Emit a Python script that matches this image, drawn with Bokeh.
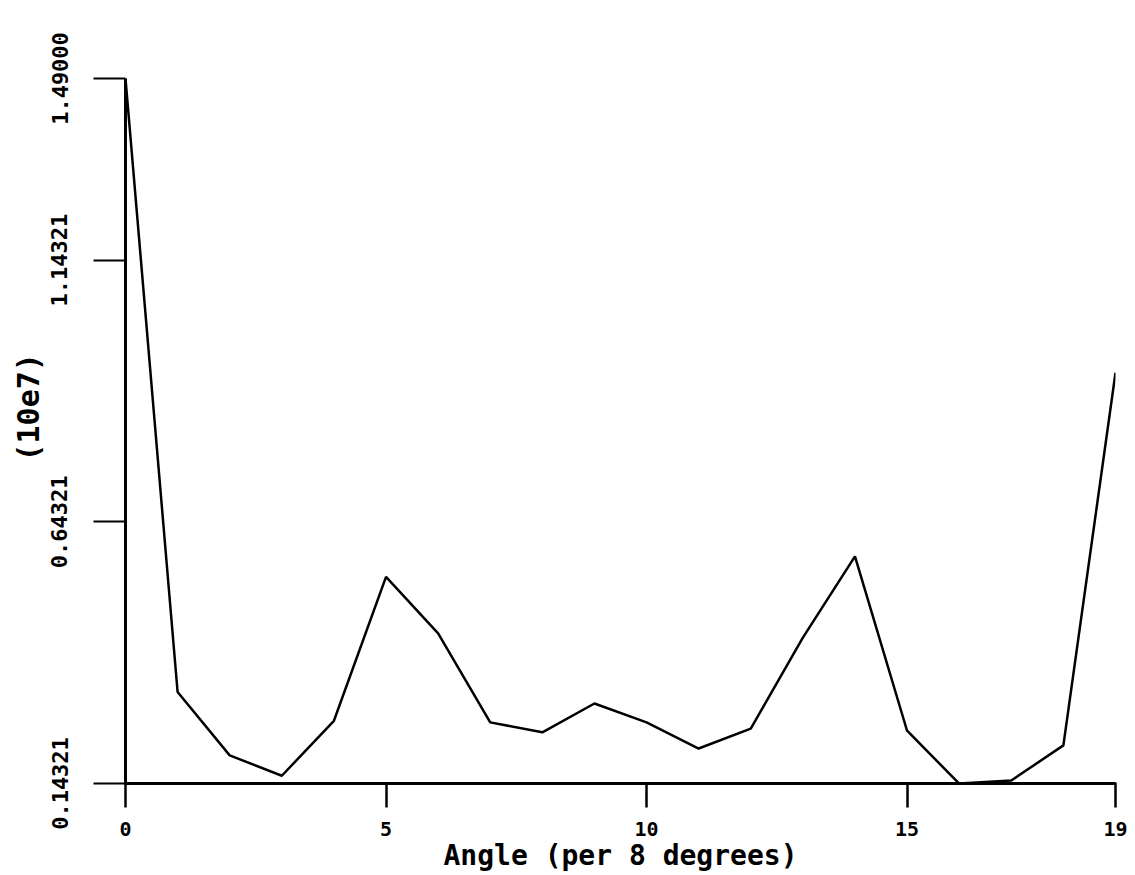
import math
from bokeh.plotting import figure
from bokeh.models import Range1d, FixedTicker, PrintfTickFormatter, Title
from bokeh.embed import file_html
from bokeh.resources import INLINE

# ---- data ----
angle = [0, 1, 2, 3, 4, 5, 6, 7, 8, 9, 10, 11, 12, 13, 14, 15, 16, 17, 18, 19]
value = [1.490, 0.318, 0.197, 0.158, 0.263, 0.538, 0.430, 0.260, 0.241, 0.296,
         0.260, 0.210, 0.248, 0.422, 0.577, 0.244, 0.143, 0.149, 0.216, 0.928]
x_ticks = [0, 5, 10, 15, 19]
y_ticks = [0.14321, 0.64321, 1.14321, 1.49]
x_title = "Angle (per 8 degrees)"
y_title = "(10e7)"

FONT = "DejaVu Sans Mono"

p = figure(width=1135, height=875, output_backend="svg", toolbar_location=None,
           x_range=Range1d(0, 19), y_range=Range1d(0.14321, 1.49),
           min_border_left=125, min_border_right=20,
           min_border_top=78, min_border_bottom=92)
p.outline_line_color = None
p.xgrid.visible = False
p.ygrid.visible = False
p.background_fill_color = "white"
p.border_fill_color = "white"

p.line(angle, value, line_color="black", line_width=2.5)

# x axis
xa = p.xaxis[0]
xa.ticker = FixedTicker(ticks=x_ticks)
xa.minor_tick_line_color = None
xa.major_tick_line_color = "black"
xa.major_tick_in = 1
xa.major_tick_out = 24
xa.major_tick_line_width = 2.5
xa.axis_line_width = 3
xa.major_label_standoff = 14
xa.major_label_text_font = FONT
xa.major_label_text_font_style = "bold"
xa.major_label_text_font_size = "20px"
xa.major_label_text_color = "black"
xa.axis_label = x_title
xa.axis_label_text_font = FONT
xa.axis_label_text_font_style = "bold"
xa.axis_label_text_font_size = "28px"
xa.axis_label_text_color = "black"
xa.axis_label_standoff = 0

# y axis
ya = p.yaxis[0]
ya.ticker = FixedTicker(ticks=y_ticks)
ya.formatter = PrintfTickFormatter(format="%.5f")
ya.minor_tick_line_color = None
ya.major_tick_line_color = "black"
ya.major_tick_in = 0
ya.major_tick_out = 32
ya.major_tick_line_width = 2
ya.axis_line_width = 3
ya.major_label_orientation = "vertical"
ya.major_label_standoff = 26
ya.major_label_text_font = FONT
ya.major_label_text_font_style = "bold"
ya.major_label_text_font_size = "22px"
ya.major_label_text_color = "black"

ttl = Title(text=y_title, align="left", offset=322, standoff=6,
            text_font=FONT, text_font_style="bold", text_font_size="30px",
            text_color="black")
p.add_layout(ttl, "left")

open("out.html", "w").write(file_html(p, INLINE))
